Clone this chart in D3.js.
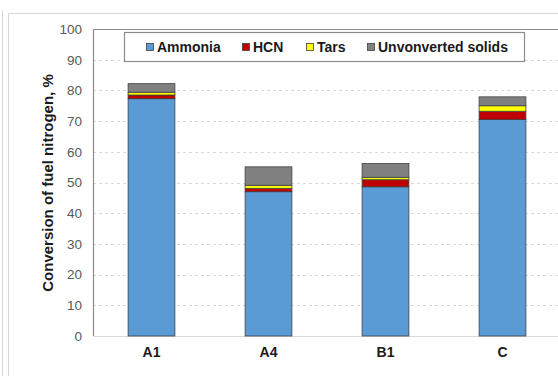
<!DOCTYPE html>
<html>
<head>
<meta charset="utf-8">
<script src="https://cdnjs.cloudflare.com/ajax/libs/d3/7.8.5/d3.min.js"></script>
<style>
  body { margin: 0; background: #fff; }
  svg { font-family: Arial, "Liberation Sans", sans-serif; }
</style>
</head>
<body>
<script>
// data
const samples = ["A1", "A4", "B1", "C"];
const ammonia = [77.3, 47.0, 48.6, 70.5];
const hcn     = [1.2, 1.1, 2.3, 2.7];
const tars    = [0.9, 1.0, 0.8, 1.8];
const solids  = [2.8, 6.0, 4.5, 2.9];
const seriesNames = ["Ammonia", "HCN", "Tars", "Unvonverted solids"];
const seriesColors = ["#5B9BD5", "#C00000", "#FFFF00", "#808080"];
const yTicks = [0, 10, 20, 30, 40, 50, 60, 70, 80, 90, 100];

const w = 558, h = 376;
const plotL = 93, plotT = 29, plotB = 336, plotR = 561;

const rows = samples.map((s, i) => ({
  sample: s, Ammonia: ammonia[i], HCN: hcn[i], Tars: tars[i], "Unvonverted solids": solids[i]
}));
const stack = d3.stack().keys(seriesNames)(rows);

const svg = d3.select("body").append("svg")
  .attr("width", w).attr("height", h);

// outer frames
svg.append("line").attr("x1", 2.5).attr("x2", 2.5).attr("y1", 10).attr("y2", h)
  .attr("stroke", "#d9d9d9");
svg.append("path").attr("d", `M8.5,${h} V13.5 H${w}`)
  .attr("fill", "none").attr("stroke", "#d9d9d9");

const x = d3.scaleBand().domain(samples).range([plotL, plotR]).paddingInner(0.6).paddingOuter(0.3);
const y = d3.scaleLinear().domain([0, 100]).range([plotB, plotT]);

// gridlines
svg.append("g").selectAll("line")
  .data(yTicks.filter(t => t > 0 && t < 100))
  .enter().append("line")
  .attr("x1", plotL).attr("x2", w)
  .attr("y1", d => Math.round(y(d)) + 0.5).attr("y2", d => Math.round(y(d)) + 0.5)
  .attr("stroke", "#d9d9d9").attr("stroke-dasharray", "3,3");

// plot border (top + left) and bottom axis
svg.append("path").attr("d", `M${plotL + 0.5},${plotB} V${plotT + 0.5} H${w}`)
  .attr("fill", "none").attr("stroke", "#8c8c8c").attr("stroke-width", 1.2);
svg.append("line").attr("x1", plotL).attr("x2", w)
  .attr("y1", plotB + 0.5).attr("y2", plotB + 0.5)
  .attr("stroke", "#d9d9d9");

// bars
svg.append("g").selectAll("g")
  .data(stack).enter().append("g")
  .attr("fill", (d, i) => seriesColors[i])
  .selectAll("rect")
  .data(d => d).enter().append("rect")
  .attr("x", d => x(d.data.sample))
  .attr("width", x.bandwidth())
  .attr("y", d => y(d[1]))
  .attr("height", d => y(d[0]) - y(d[1]))
  .attr("stroke", "#404040").attr("stroke-width", 0.8);

// y axis labels
const yAxis = d3.axisLeft(y).tickValues(yTicks).tickSize(0).tickPadding(11);
const yg = svg.append("g").attr("transform", `translate(${plotL},0)`).call(yAxis);
yg.select(".domain").remove();
yg.selectAll("text").attr("font-size", 13.5).attr("fill", "#595959")
  .attr("font-family", "Arial, 'Liberation Sans', sans-serif");

// x axis labels
const xAxis = d3.axisBottom(x).tickSize(0).tickPadding(11);
const xg = svg.append("g").attr("transform", `translate(0,${plotB})`).call(xAxis);
xg.select(".domain").remove();
xg.selectAll("text").attr("font-size", 14).attr("font-weight", "bold").attr("fill", "#1a1a1a")
  .attr("font-family", "Arial, 'Liberation Sans', sans-serif");

// y title
svg.append("text")
  .attr("transform", "translate(53,183) rotate(-90)")
  .attr("text-anchor", "middle")
  .attr("font-size", 15).attr("font-weight", "bold").attr("fill", "#1a1a1a")
  .text("Conversion of fuel nitrogen, %");

// legend
const lg = svg.append("g");
lg.append("rect").attr("x", 124.5).attr("y", 32.5).attr("width", 400).attr("height", 29)
  .attr("fill", "#fff").attr("stroke", "#8c8c8c").attr("stroke-width", 1.2);
const legendX = [146, 242, 306, 367];
const items = lg.selectAll("g.item").data(seriesNames).enter().append("g")
  .attr("transform", (d, i) => `translate(${legendX[i]},47)`);
items.append("rect").attr("x", 0.5).attr("y", -3.5).attr("width", 7).attr("height", 7)
  .attr("fill", (d, i) => seriesColors[i]).attr("stroke", "#404040").attr("stroke-width", 0.8);
items.append("text").attr("x", 11).attr("y", 5)
  .attr("font-size", 14).attr("font-weight", "bold").attr("fill", "#1a1a1a")
  .text(d => d);
</script>
</body>
</html>
